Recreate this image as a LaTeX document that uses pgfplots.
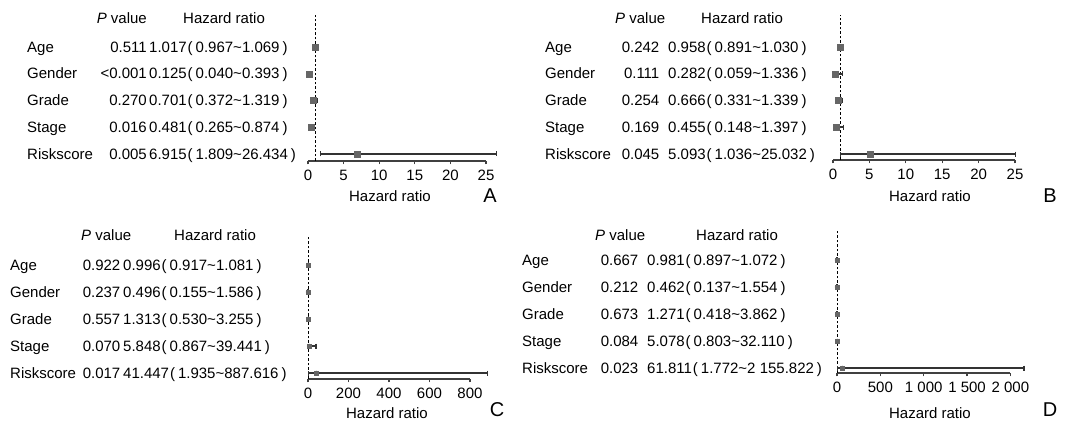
\documentclass[border=0pt]{standalone}
\usepackage{fontspec}
\setmainfont{Liberation Sans}
\usepackage{pgfplots}
\usepackage{pgfplotstable}
\pgfplotsset{compat=1.18}

\pgfplotstableread{
row hr lo hi
5 1.017 0.967 1.069
4 0.125 0.040 0.393
3 0.701 0.372 1.319
2 0.481 0.265 0.874
1 6.915 1.809 26.434
}\tabA
\pgfplotstableread{
row hr lo hi
5 0.958 0.891 1.030
4 0.282 0.059 1.336
3 0.666 0.331 1.339
2 0.455 0.148 1.397
1 5.093 1.036 25.032
}\tabB
\pgfplotstableread{
row hr lo hi
5 0.996 0.917 1.081
4 0.496 0.155 1.586
3 1.313 0.530 3.255
2 5.848 0.867 39.441
1 41.447 1.935 887.616
}\tabC
\pgfplotstableread{
row hr lo hi
5 0.981 0.897 1.072
4 0.462 0.137 1.554
3 1.271 0.418 3.862
2 5.078 0.803 32.110
1 61.811 1.772 2155.822
}\tabD

\newcommand{\fs}{\fontsize{15}{18}\selectfont}
\newcommand{\fl}{\fontsize{20}{24}\selectfont}
% #1 baseline Y, #2 label x, #3 label, #4 P right x, #5 P, #6 HR x, #7 HR, #8 lo, #9 hi
\newcommand{\trow}[9]{%
  \node[anchor=base west, inner sep=0pt, font=\fs] at (#2pt,#1pt) {#3};
  \node[anchor=base east, inner sep=0pt, font=\fs] at (#4pt,#1pt) {#5};
  \node[anchor=base west, inner sep=0pt, font=\fs] at (#6pt,#1pt) {#7\hspace{1pt}(\hspace{3pt}#8\textasciitilde#9\hspace{3pt})};
}

\pgfplotsset{forest/.style={
  scale only axis, hide y axis, axis x line*=bottom, clip=false,
  xmin=0, ytick=\empty, anchor=south west,
  axis line style={black!75, line width=1.2pt},
  every tick/.style={black!75, line width=1.2pt},
  tick align=outside, major tick length=3.5pt,
  xticklabel style={font=\fs, inner sep=2pt, yshift=-3pt},
}}
\pgfplotsset{
  ebar/.style={only marks, mark=none, black!80,
    error bars/.cd, x dir=both, x explicit,
    error bar style={line width=1.6pt, black!80},
    error mark=|, error mark options={mark size=2.5pt, line width=1.2pt, black!80}},
  sq/.style={only marks, mark=square*, mark size=#1, draw=black!60, fill=black!60},
  refl/.style={black, line width=1.2pt, dash pattern=on 2.5pt off 2pt},
}

\begin{document}
\begin{tikzpicture}

% ---------- Panel A ----------
\begin{axis}[forest, at={(308pt,261pt)}, width=178pt, height=146pt,
  xmax=25, ymin=0.738, ymax=6.196,
  xtick={0,5,10,15,20,25}, xticklabels={0,5,10,15,20,25}]
\addplot[refl] coordinates {(1,0.738) (1,6.196)};
\addplot[ebar] table[x=hr, y=row, x error plus expr=\thisrow{hi}-\thisrow{hr}, x error minus expr=\thisrow{hr}-\thisrow{lo}] {\tabA};
\addplot[sq=3pt] table[x=hr, y=row] {\tabA};
\end{axis}
\node[anchor=base east, inner sep=0pt, font=\fs] at (147pt,398.7pt) {\textit{P} value};
\node[anchor=base west, inner sep=0pt, font=\fs] at (183pt,398.7pt) {Hazard ratio};
\trow{369.7}{27}{Age}{147}{0.511}{149}{1.017}{0.967}{1.069}
\trow{343.0}{27}{Gender}{147}{<0.001}{149}{0.125}{0.040}{0.393}
\trow{316.2}{27}{Grade}{147}{0.270}{149}{0.701}{0.372}{1.319}
\trow{289.5}{27}{Stage}{147}{0.016}{149}{0.481}{0.265}{0.874}
\trow{262.7}{27}{Riskscore}{147}{0.005}{149}{6.915}{1.809}{26.434}
\node[anchor=base, inner sep=0pt, font=\fs] at (390pt,220.7pt) {Hazard ratio};
\node[anchor=base, inner sep=0pt, font=\fl] at (490pt,219pt) {A};

% ---------- Panel B ----------
\begin{axis}[forest, at={(833pt,262pt)}, width=182pt, height=145pt,
  xmax=25, ymin=0.776, ymax=6.196,
  xtick={0,5,10,15,20,25}, xticklabels={0,5,10,15,20,25}]
\addplot[refl] coordinates {(1,0.776) (1,6.196)};
\addplot[ebar] table[x=hr, y=row, x error plus expr=\thisrow{hi}-\thisrow{hr}, x error minus expr=\thisrow{hr}-\thisrow{lo}] {\tabB};
\addplot[sq=3pt] table[x=hr, y=row] {\tabB};
\end{axis}
\node[anchor=base west, inner sep=0pt, font=\fs] at (615pt,398.7pt) {\textit{P} value};
\node[anchor=base west, inner sep=0pt, font=\fs] at (701pt,398.7pt) {Hazard ratio};
\trow{369.7}{545}{Age}{659.5}{0.242}{668}{0.958}{0.891}{1.030}
\trow{343.0}{545}{Gender}{659.5}{0.111}{668}{0.282}{0.059}{1.336}
\trow{316.2}{545}{Grade}{659.5}{0.254}{668}{0.666}{0.331}{1.339}
\trow{289.5}{545}{Stage}{659.5}{0.169}{668}{0.455}{0.148}{1.397}
\trow{262.7}{545}{Riskscore}{659.5}{0.045}{668}{5.093}{1.036}{25.032}
\node[anchor=base, inner sep=0pt, font=\fs] at (930pt,220.7pt) {Hazard ratio};
\node[anchor=base, inner sep=0pt, font=\fl] at (1050pt,219pt) {B};

% ---------- Panel C ----------
\begin{axis}[forest, at={(308pt,43pt)}, width=162pt, height=142pt,
  xmax=800, ymin=0.778, ymax=6.037,
  xtick={0,200,400,600,800}, xticklabels={0,200,400,600,800}]
\addplot[refl] coordinates {(1,0.778) (1,6.037)};
\addplot[ebar] table[x=hr, y=row, x error plus expr=\thisrow{hi}-\thisrow{hr}, x error minus expr=\thisrow{hr}-\thisrow{lo}] {\tabC};
\addplot[sq=2pt] table[x=hr, y=row] {\tabC};
\end{axis}
\node[anchor=base west, inner sep=0pt, font=\fs] at (81pt,181.7pt) {\textit{P} value};
\node[anchor=base west, inner sep=0pt, font=\fs] at (174pt,181.7pt) {Hazard ratio};
\trow{151.7}{10}{Age}{120.5}{0.922}{123}{0.996}{0.917}{1.081}
\trow{124.7}{10}{Gender}{120.5}{0.237}{123}{0.496}{0.155}{1.586}
\trow{97.7}{10}{Grade}{120.5}{0.557}{123}{1.313}{0.530}{3.255}
\trow{70.7}{10}{Stage}{120.5}{0.070}{123}{5.848}{0.867}{39.441}
\trow{43.7}{10}{Riskscore}{120.5}{0.017}{123}{41.447}{1.935}{887.616}
\node[anchor=base, inner sep=0pt, font=\fs] at (387pt,3.7pt) {Hazard ratio};
\node[anchor=base, inner sep=0pt, font=\fl] at (497pt,5pt) {C};

% ---------- Panel D ----------
\begin{axis}[forest, at={(837pt,49pt)}, width=173.4pt, height=143pt,
  xmax=2000, ymin=0.815, ymax=6.111,
  xtick={0,500,1000,1500,2000}, xticklabels={0,500,1 000,1 500,2 000}]
\addplot[refl] coordinates {(1,0.815) (1,6.111)};
\addplot[ebar] table[x=hr, y=row, x error plus expr=\thisrow{hi}-\thisrow{hr}, x error minus expr=\thisrow{hr}-\thisrow{lo}] {\tabD};
\addplot[sq=2pt] table[x=hr, y=row] {\tabD};
\end{axis}
\node[anchor=base west, inner sep=0pt, font=\fs] at (595pt,181.7pt) {\textit{P} value};
\node[anchor=base west, inner sep=0pt, font=\fs] at (696pt,181.7pt) {Hazard ratio};
\trow{156.7}{522}{Age}{638.5}{0.667}{647}{0.981}{0.897}{1.072}
\trow{129.7}{522}{Gender}{638.5}{0.212}{647}{0.462}{0.137}{1.554}
\trow{102.7}{522}{Grade}{638.5}{0.673}{647}{1.271}{0.418}{3.862}
\trow{75.7}{522}{Stage}{638.5}{0.084}{647}{5.078}{0.803}{32.110}
\trow{48.7}{522}{Riskscore}{638.5}{0.023}{647}{61.811}{1.772}{2 155.822}
\node[anchor=base, inner sep=0pt, font=\fs] at (930pt,3.7pt) {Hazard ratio};
\node[anchor=base, inner sep=0pt, font=\fl] at (1050pt,5pt) {D};

\pgfresetboundingbox
\path[use as bounding box] (0pt,0pt) rectangle (1075pt,422pt);
\end{tikzpicture}
\end{document}
